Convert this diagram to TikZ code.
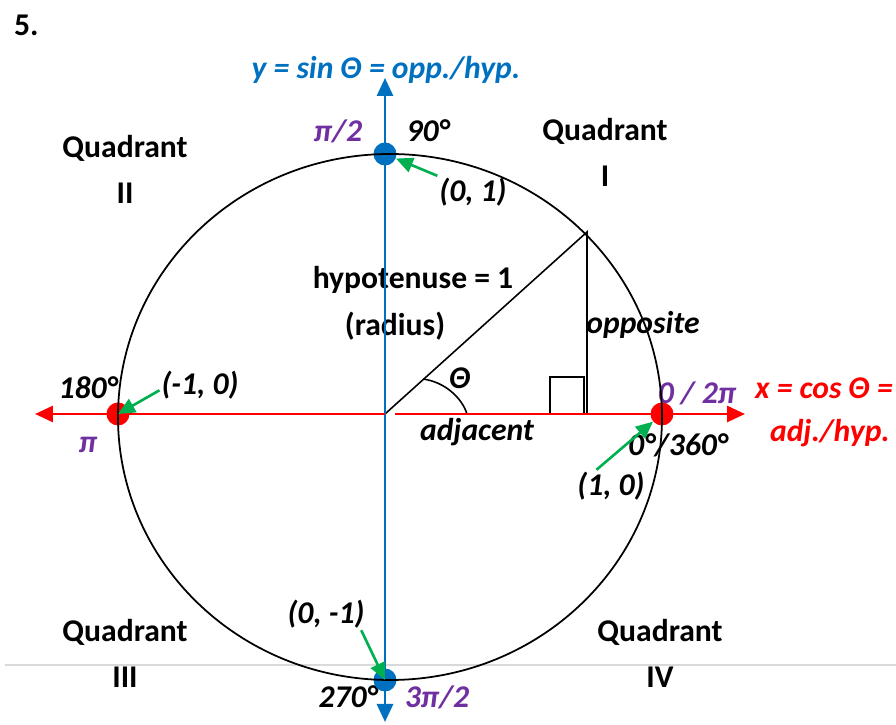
\documentclass[tikz,border=0pt]{standalone}
\usepackage{fontspec}
\setmainfont{Carlito}
\usetikzlibrary{arrows.meta}
\definecolor{axisblue}{RGB}{0,112,192}
\definecolor{radpurple}{RGB}{112,48,160}
\definecolor{ptgreen}{RGB}{0,176,80}

\begin{document}
\begin{tikzpicture}[
    font=\fontsize{18}{20}\selectfont\bfseries,
    every node/.style={inner sep=1pt},
    ital/.style={font=\fontsize{18}{20}\selectfont\bfseries\itshape},
    dot/.style={circle, inner sep=0pt, minimum size=0.46cm},
    axis/.style={line width=1.6pt, -{Triangle[length=0.36cm,width=0.32cm]}},
    ptarrow/.style={draw=ptgreen, line width=1.5pt, -{Triangle[length=0.34cm,width=0.3cm]}}
]
\useasboundingbox (-7.7,-6.22) rectangle (10.22,8.28);

% Page rule
\draw[gray!30, line width=1pt] (-7.6,-5.02) -- (10.22,-5.02);

% Problem number
\node[anchor=west] (num) at (-7.46,7.78) {5.};

% Right triangle
\coordinate (O) at (0,0);
\coordinate (P) at (4.04,3.64);
\coordinate (F) at (4.04,0);
\draw[line width=0.9pt] (O) -- (P) -- (F);
\draw[line width=0.9pt] (3.3,0) rectangle (3.98,0.74);
\draw[line width=0.9pt] (0.76,0.70) .. controls (1.2,0.64) and (1.54,0.32) .. (1.64,0);

% Quadrant labels
\foreach \name/\x/\y/\num in {q2/-5.2/5.32/II, q1/4.4/5.66/I, q3/-5.2/-4.36/III, q4/5.5/-4.36/IV}
{
  \node (\name) at (\x,\y) {Quadrant};
  \node (\name n) at (\x,\y-0.9) {\num};
}

% Triangle labels
\node (hyp) at (0.56,2.68) {hypotenuse = 1};
\node (rad) at (0.2,1.76) {(radius)};
\node[ital] (opp) at (5.16,1.78) {opposite};
\node[ital] (adj) at (1.84,-0.36) {adjacent};
\node[ital] (th) at (1.5,0.72) {Θ};

% Axis labels
\node[ital, axisblue] (ylab) at (0.02,6.88) {y = sin Θ = opp./hyp.};
\node[ital, red, anchor=east] (xlab) at (10.2,0.52) {x = cos Θ =};
\node[ital, red] (xlab2) at (8.9,-0.38) {adj./hyp.};

% Angle labels
\node[ital, radpurple] (r90) at (-0.94,5.66) {π/2};
\node[ital] (d90) at (0.86,5.66) {90°};
\node[ital] (d180) at (-5.94,0.52) {180°};
\node[ital, radpurple] (r180) at (-5.94,-0.62) {π};
\node[ital, radpurple] (r0) at (6.24,0.42) {0 / 2π};
\node[ital] (d0) at (5.86,-0.62) {0°/360°};
\node[ital] (d270) at (-0.74,-5.66) {270°};
\node[ital, radpurple] (r270) at (1.04,-5.66) {3π/2};

% Point labels
\node[ital] (p01) at (1.76,4.44) {(0, 1)};
\node[ital] (pm10) at (-3.7,0.58) {(-1, 0)};
\node[ital] (p10) at (4.52,-1.44) {(1, 0)};
\node[ital] (p0m1) at (-1.18,-4.0) {(0, -1)};

% Axes
\draw[axis, axisblue] (0,-0.2) -- (0,6.72);
\draw[axis, axisblue] (0,0) -- (0,-6.16);
\draw[axis, red] (0.2,0) -- (7.2,0);
\draw[axis, red] (0,0) -- (-7.0,0);

% Points on the circle
\node[dot, fill=axisblue] (top) at (0,5.2) {};
\node[dot, fill=axisblue] (bot) at (0,-5.32) {};
\node[dot, fill=red] (lft) at (-5.34,0) {};
\node[dot, fill=red] (rgt) at (5.54,0) {};

% Unit circle
\draw[line width=1pt] (0.1,-0.06) ellipse (5.44 and 5.26);

% Pointers
\draw[ptarrow] (p01.north west) -- (top);
\draw[ptarrow] ([yshift=-3pt]pm10.west) -- (lft.center);
\draw[ptarrow] ([xshift=12pt]p10.north west) -- (rgt);
\draw[ptarrow] ([xshift=-3pt]p0m1.south east) -- (bot.center);
\end{tikzpicture}
\end{document}
